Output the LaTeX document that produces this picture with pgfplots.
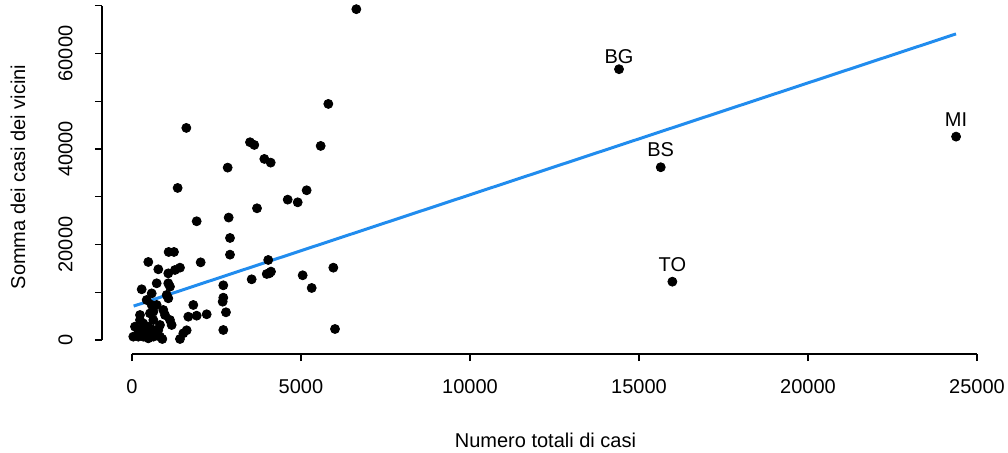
\documentclass[border=0pt]{standalone}
\usepackage{fontspec}
\setmainfont{Liberation Sans}
\usepackage{pgfplots}
\pgfplotsset{compat=1.18}
\definecolor{fitblue}{RGB}{33,140,238}

\begin{document}
\begin{tikzpicture}
\begin{axis}[
    width=443.5pt, height=177pt, scale only axis,
    xmin=-887, xmax=25356, ymin=-2933, ymax=71200,
    axis lines*=left, axis line style={draw=none},
    clip=false, scaled ticks=false,
    tick align=outside, major tick length=3.5pt,
    tick style={black, line width=0.6pt},
    xtick={0,5000,...,25000}, xticklabels={0,5000,10000,15000,20000,25000},
    ytick={0,10000,...,70000}, yticklabels={0,,20000,,40000,,60000,},
    xticklabel style={anchor=north, inner sep=0pt},
    yticklabel style={rotate=90, anchor=south, inner sep=0pt},
    xticklabel shift=9pt, yticklabel shift=11pt,
    xlabel={Numero totali di casi}, ylabel={Somma dei casi dei vicini},
    xlabel style={at={(axis description cs:0.5,-0.243)}, anchor=center},
    ylabel style={at={(axis description cs:-0.0947,0.5)}, anchor=center},
    label style={font=\fontsize{10}{12}\selectfont},
    tick label style={font=\fontsize{10}{12}\selectfont},
]
\draw[black, line width=0.6pt] (axis cs:0,-2933) -- (axis cs:25000,-2933);
\draw[black, line width=0.6pt] (axis cs:-887,0) -- (axis cs:-887,70000);

\addplot[only marks, mark=*, mark size=2.25pt, black] coordinates {
(14410,56712) (15644,36180) (15988,12214) (24382,42591) (6638,69280)
(1608,44414) (2831,36100) (3492,41418) (3619,40853) (3916,37920) (4104,37144)
(5583,40643) (5809,49442)
(1351,31844) (4607,29393) (4903,28834) (5168,31355) (3699,27584) (1914,24866)
(2861,25641) (2900,21369) (2900,17872) (2032,16263) (483,16341) (1085,18436)
(1243,18436) (779,14806) (1420,15146) (1272,14665) (1074,13955) (4031,16760)
(4063,13964) (4113,14323) (3987,13827) (3541,12710) (5050,13551) (5957,15146)
(5317,10894) (6007,2305) (2702,11452) (2702,8862) (2683,8024) (2781,5803)
(2702,2095) (1814,7333) (2210,5384) (1914,5091) (1666,4881) (1618,2033)
(1519,1404) (1420,210) (897,210)
(287,10621) (583,9763) (731,11875) (1074,11875) (1124,11173) (1027,9428)
(1074,8736) (435,8380) (583,7333) (731,7333) (632,5929) (533,5573) (237,5238)
(927,6285) (977,5238) (1124,4190) (1174,3143) (632,4190) (89,2794) (187,2095)
(335,2444) (483,2794) (632,2095) (779,2095) (829,3143) (39,700) (187,700)
(335,700) (483,350) (632,700) (287,1400) (435,1400) (731,1000) (829,700)
(335,3480) (237,4190)
};

\addplot[fitblue, line width=1.5pt] coordinates {(50,7100) (24380,64100)};

\addplot[only marks, mark=none, nodes near coords, point meta=explicit symbolic,
    every node near coord/.style={anchor=base, inner sep=0pt, yshift=3pt,
        font=\fontsize{10}{12}\selectfont}]
    coordinates {(14410,56712) [BG]};
\addplot[only marks, mark=none, nodes near coords, point meta=explicit symbolic,
    every node near coord/.style={anchor=base, inner sep=0pt, yshift=5.3pt,
        font=\fontsize{10}{12}\selectfont}]
    coordinates {(15644,36180) [BS] (15988,12214) [TO] (24382,42591) [MI]};
\end{axis}
\pgfresetboundingbox
\path ([shift={(-51pt,177pt)}]current axis.south west) rectangle ([shift={(453pt,-49pt)}]current axis.south west);
\end{tikzpicture}
\end{document}
